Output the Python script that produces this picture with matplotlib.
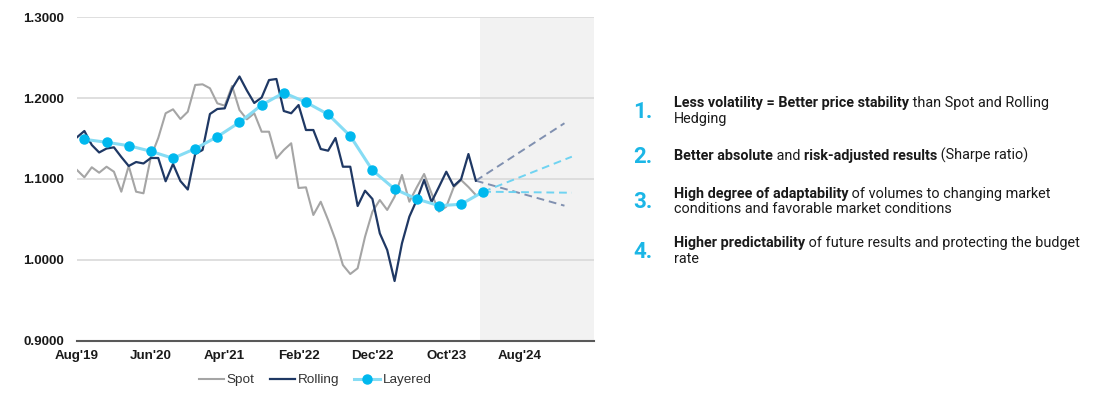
import numpy as np
import matplotlib
matplotlib.use('Agg')
import matplotlib.pyplot as plt

# monthly series, Aug'19 .. Feb'24
spot = [1.1111, 1.1021, 1.1145, 1.1078, 1.1152, 1.1090, 1.0843, 1.1161, 1.0843, 1.0823,
        1.1272, 1.1507, 1.1813, 1.1862, 1.1742, 1.1832, 1.2163, 1.2171, 1.2122, 1.1936,
        1.1907, 1.2150, 1.1853, 1.1738, 1.1813, 1.1585, 1.1585, 1.1256, 1.1359, 1.1442,
        1.0889, 1.0897, 1.0555, 1.0719, 1.0493, 1.0246, 0.9936, 0.9825, 0.9896, 1.0286,
        1.0596, 1.0740, 1.0617, 1.0781, 1.1050, 1.0719, 1.0897, 1.1062, 1.0823, 1.0596,
        1.0657, 1.0897, 1.0988, 1.0901, 1.0802]
rolling = [1.1516, 1.1594, 1.1421, 1.1328, 1.1377, 1.1392, 1.1272, 1.1161, 1.1210, 1.1192,
           1.1260, 1.1260, 1.0972, 1.1186, 1.0975, 1.0870, 1.1309, 1.1359, 1.1804, 1.1866,
           1.1874, 1.2119, 1.2268, 1.2095, 1.1940, 1.2008, 1.2224, 1.2237, 1.1841, 1.1813,
           1.1915, 1.1606, 1.1606, 1.1371, 1.1350, 1.1507, 1.1152, 1.1152, 1.0666, 1.0855,
           1.0753, 1.0328, 1.0122, 0.9738, 1.0205, 1.0534, 1.0740, 1.0988, 1.0716, 1.0901,
           1.1090, 1.0913, 1.0996, 1.1309, 1.0979]
# layered: quarterly, from Sep'19
layered = [1.1491, 1.1454, 1.1412, 1.1343, 1.1256, 1.1375, 1.1523, 1.1701, 1.1915, 1.2067,
           1.1949, 1.1800, 1.1532, 1.1108, 1.0876, 1.0753, 1.0670, 1.0687, 1.0843]
layered_first_month = 1
layered_step = 3

# scenario end values (12 months ahead)
rolling_up = 1.169
rolling_down = 1.067
layered_up = 1.1276
layered_flat = 1.083
horizon = 12

tick_labels = ["Aug'19", "Jun'20", "Apr'21", "Feb'22", "Dec'22", "Oct'23", "Aug'24"]
tick_step = 10
n_months = 70

points = [
    [("Less volatility = Better price stability", 'bold'), (" than Spot and Rolling", 'normal')],
    [("Hedging", 'normal')],
    [("Better absolute", 'bold'), (" and ", 'normal'), ("risk-adjusted results", 'bold'),
     (" (Sharpe ratio)", 'normal')],
    [("High degree of adaptability", 'bold'), (" of volumes to changing market", 'normal')],
    [("conditions and favorable market conditions", 'normal')],
    [("Higher predictability", 'bold'), (" of future results and protecting the budget", 'normal')],
    [("rate", 'normal')],
]
numbers = ["1.", "2.", "3.", "4."]

SPOT_C = '#a5a5a5'
ROLL_C = '#1f3864'
LAY_C = '#86dcf4'
DOT_C = '#00b8ee'

fig = plt.figure(figsize=(10.96, 3.99), dpi=100)
W, H = 1096, 399
ax = fig.add_axes([77 / W, 1 - 340.7 / H, (594 - 77) / W, (340.7 - 17.3) / H])

m = np.arange(len(spot))
lm = layered_first_month + layered_step * np.arange(len(layered))
last_r = len(rolling) - 1
last_l = lm[-1]

# forecast zone
ax.axvspan(last_r + 0.6, n_months, color='#f2f2f2', lw=0, zorder=0)

ax.plot(m, spot, color=SPOT_C, lw=1.5, label='Spot', zorder=3)
ax.plot(m, rolling, color=ROLL_C, lw=1.6, label='Rolling', zorder=4)
ax.plot(lm, layered, color=LAY_C, lw=2.2, marker='o', ms=6.5, mfc=DOT_C, mec=DOT_C,
        label='Layered', zorder=5)

for end in (rolling_up, rolling_down):
    ax.plot([last_r, last_r + horizon], [rolling[-1], end], color='#8090b0', lw=1.4,
            ls=(0, (4, 2.5)), zorder=2)
for end in (layered_up, layered_flat):
    ax.plot([last_l, last_l + horizon], [layered[-1], end], color='#6fd3f1', lw=1.4,
            ls=(0, (4, 2.5)), zorder=2)

ax.set_xlim(0, n_months)
ax.set_ylim(0.9, 1.3)
ax.set_yticks([0.9, 1.0, 1.1, 1.2, 1.3])
ax.set_yticklabels(['%.4f' % v for v in [0.9, 1.0, 1.1, 1.2, 1.3]])
ax.set_xticks(np.arange(len(tick_labels)) * tick_step)
ax.set_xticklabels(tick_labels)
ax.grid(axis='y', color='#d9d9d9', lw=1.2)
ax.set_axisbelow(True)
for s in ['left', 'right', 'top']:
    ax.spines[s].set_visible(False)
ax.spines['bottom'].set_color('#595959')
ax.spines['bottom'].set_linewidth(1.5)
ax.spines['bottom'].set_zorder(6)
ax.tick_params(length=0)
ax.tick_params(axis='y', pad=9.5)
ax.tick_params(axis='x', pad=7)
for t in ax.get_xticklabels() + ax.get_yticklabels():
    t.set_fontfamily('Liberation Sans')
    t.set_fontweight('bold')
    t.set_fontsize(9.6)
    t.set_color('#1a1a1a')

leg = fig.legend(loc='center', bbox_to_anchor=(315 / W, 1 - 380 / H), ncol=3, frameon=False,
                 prop={'family': 'Liberation Sans', 'size': 9.7}, handlelength=1.9,
                 handletextpad=0.2, columnspacing=1.1)
for t in leg.get_texts():
    t.set_color('#333333')

# right-hand text block
baselines = [106.7, 122.7, 160, 198.3, 213.3, 246.7, 263.3]
num_base = [118.3, 163, 208, 258]
for s, yb in zip(numbers, num_base):
    fig.text(633 / W, 1 - yb / H, s, family='Roboto', weight='bold', size=16,
             color='#1bb6e6', va='baseline')

# each segment starts where the previous one ends
fs = 10.35
for parts, yb in zip(points, baselines):
    txt, w = parts[0]
    t = fig.text(674 / W, 1 - yb / H, txt, family='Roboto', weight=w, size=fs,
                 color='#1a1a1a', va='baseline')
    for txt, w in parts[1:]:
        t = ax.annotate(txt, xy=(1, 0), xycoords=t, va='bottom', ha='left',
                        family='Roboto', weight=w, size=fs, color='#1a1a1a',
                        annotation_clip=False)

plt.savefig('out.png', dpi=100)
